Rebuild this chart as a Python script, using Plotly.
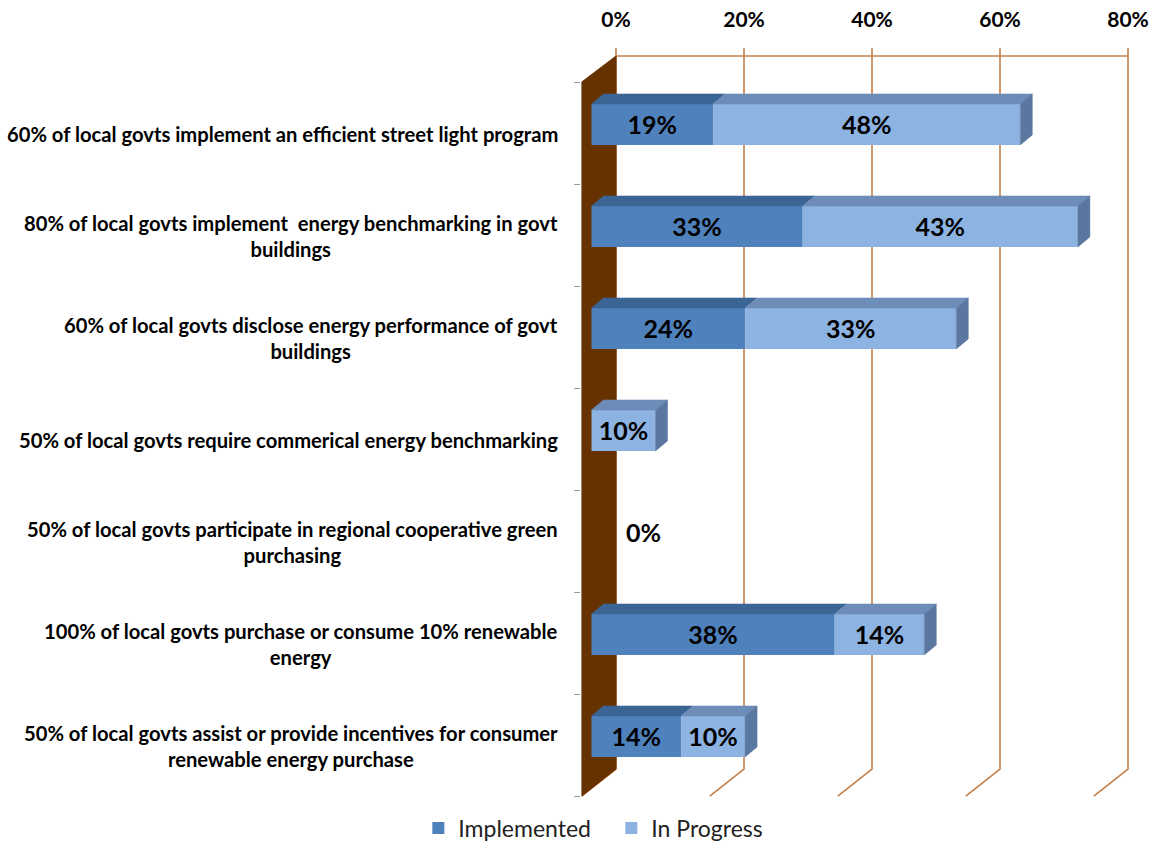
import plotly.graph_objects as go

# ---------------- data ----------------
categories = [
    "60% of local govts implement an efficient street light program",
    "80% of local govts implement  energy benchmarking in govt<br>buildings",
    "60% of local govts disclose energy performance of govt<br>buildings",
    "50% of local govts require commerical energy benchmarking",
    "50% of local govts participate in regional cooperative green<br>purchasing",
    "100% of local govts purchase or consume 10% renewable<br>energy",
    "50% of local govts assist or provide incentives for consumer<br>renewable energy purchase",
]
implemented = [19, 33, 24, 0, 0, 38, 14]
in_progress = [48, 43, 33, 10, 0, 14, 10]
x_ticks = [0, 20, 40, 60, 80]
x_ticklabels = ["0%", "20%", "40%", "60%", "80%"]
series_names = ["Implemented", "In Progress"]

# ---------------- style / geometry ----------------
C_IMP = "#4F81BD"
C_IMP_TOP = "#3B6595"
C_PRO = "#8DB3E2"
C_PRO_TOP = "#6D8DB8"
C_SIDE = "#5A77A0"
C_WALL = "#663300"
C_GRID = "#C4804C"
FONT = "Lato"

BAR_OFF = -0.285      # bar offset in category units
BAR_W = 0.402         # bar width in category units
DX = 1.875            # 3D depth of the bars (x units, %)
DY = -0.098           # 3D depth of the bars (y units)
FLOOR_DX = 5.35       # depth of the wall/floor (%)
Y_TOP = -0.5 - 26 / 102
Y_TICKTOP = -0.5 - 34 / 102
Y_BACKBOT = 6.5 - 27 / 102
Y_FRONTBOT = 6.5

n = len(categories)
pos = list(range(n))

fig = go.Figure()

# gridlines (back wall + floor), on the back axis x2
gx, gy = [], []
for v in x_ticks:
    gx += [v, v, v - FLOOR_DX, None]
    gy += [Y_TICKTOP, Y_BACKBOT, Y_FRONTBOT, None]
gx += [x_ticks[0], x_ticks[-1], None]
gy += [Y_TOP, Y_TOP, None]
fig.add_trace(go.Scatter(x=gx, y=gy, mode="lines", xaxis="x2", yaxis="y",
                         line=dict(color=C_GRID, width=1.6), showlegend=False,
                         hoverinfo="skip", zorder=-2))

# side wall
fig.add_trace(go.Scatter(
    x=[-FLOOR_DX, 0, 0, -FLOOR_DX, -FLOOR_DX],
    y=[-0.5, Y_TOP, Y_BACKBOT, Y_FRONTBOT, -0.5],
    mode="lines", fill="toself", fillcolor=C_WALL, line=dict(color=C_WALL, width=1),
    xaxis="x2", yaxis="y", showlegend=False, hoverinfo="skip", zorder=-1))
fig.add_trace(go.Scatter(x=[-FLOOR_DX - 0.15, -FLOOR_DX - 0.15], y=[-0.5, Y_FRONTBOT],
                         mode="lines", line=dict(color="#B0B0B0", width=1.5),
                         xaxis="x2", yaxis="y", showlegend=False, hoverinfo="skip", zorder=-1))

# front faces of the bars
LABEL_FONT = dict(family=FONT, size=25, color="black", weight="bold")
fig.add_trace(go.Bar(
    y=pos, x=implemented, orientation="h", name=series_names[0],
    marker=dict(color=C_IMP, line=dict(width=0)),
    width=BAR_W, offset=BAR_OFF,
    text=[f"{v}%" if v > 0 else "" for v in implemented],
    textposition="inside", insidetextanchor="middle",
    textfont=LABEL_FONT, zorder=1))
fig.add_trace(go.Bar(
    y=pos, x=in_progress, orientation="h", name=series_names[1],
    base=implemented,
    marker=dict(color=C_PRO, line=dict(width=0)),
    width=BAR_W, offset=BAR_OFF,
    text=[f"{v}%" if v > 0 else "" for v in in_progress],
    textposition="inside", insidetextanchor="middle",
    textfont=LABEL_FONT, zorder=1))

# top and side faces
def top_face(a, b, yt):
    return [a, b, b + DX, a + DX, a, None], [yt, yt, yt + DY, yt + DY, yt, None]

tix, tiy, tpx, tpy, sx, sy = [], [], [], [], [], []
for i in range(n):
    yt = i + BAR_OFF
    yb = yt + BAR_W
    a, b = 0, implemented[i]
    c = b + in_progress[i]
    if implemented[i] > 0:
        xx, yy = top_face(a, b, yt)
        tix += xx; tiy += yy
    if in_progress[i] > 0:
        xx, yy = top_face(b, c, yt)
        tpx += xx; tpy += yy
    if c > 0:
        sx += [c, c + DX, c + DX, c, c, None]
        sy += [yt, yt + DY, yb + DY, yb, yt, None]

for xx, yy, col in [(tix, tiy, C_IMP_TOP), (tpx, tpy, C_PRO_TOP), (sx, sy, C_SIDE)]:
    fig.add_trace(go.Scatter(x=xx, y=yy, mode="lines", fill="toself", fillcolor=col,
                             line=dict(color=col, width=0.5), showlegend=False,
                             hoverinfo="skip", zorder=2))

# "0%" label for the empty category
for i in range(n):
    if implemented[i] + in_progress[i] == 0:
        fig.add_annotation(x=5.0, y=i + BAR_OFF + BAR_W / 2, xref="x", yref="y",
                           text="0%", showarrow=False, xanchor="left",
                           font=LABEL_FONT)

# category labels
for i, c in enumerate(categories):
    fig.add_annotation(x=-0.038, y=i + 0.01, xref="paper", yref="y", text=c,
                       showarrow=False, xanchor="right", yanchor="middle", align="center",
                       font=dict(family=FONT, size=20.2, color="black", weight="bold"))

# invisible trace to keep x2 alive
fig.add_trace(go.Scatter(x=[0], y=[0], xaxis="x2", mode="markers",
                         marker=dict(opacity=0), showlegend=False, hoverinfo="skip"))

fig.update_layout(
    width=1154, height=842,
    margin=dict(l=581, r=14, t=45, b=42, autoexpand=False),
    paper_bgcolor="white", plot_bgcolor="white",
    barmode="overlay",
    showlegend=True,
    legend=dict(orientation="h", x=-0.291, xanchor="left", y=-0.037, yanchor="middle",
                font=dict(family=FONT, size=23, color="#222"),
                entrywidth=148, entrywidthmode="pixels", itemwidth=30,
                traceorder="normal"),
    xaxis=dict(range=[-1.641, 85.703], visible=False, fixedrange=True),
    xaxis2=dict(range=[-5.469, 81.875], overlaying="x", side="top",
                tickvals=x_ticks, ticktext=x_ticklabels, showgrid=False,
                zeroline=False, showline=False, ticks="", ticklabelstandoff=13,
                automargin=False,
                tickfont=dict(family=FONT, size=21, color="black", weight="bold")),
    yaxis=dict(range=[6.539, -0.8627], tickvals=[k - 0.5 for k in range(n + 1)],
               showticklabels=False, ticks="outside", ticklen=6, tickcolor="#999",
               showgrid=False, zeroline=False, showline=False, automargin=False),
)

fig.write_html("out.html")
